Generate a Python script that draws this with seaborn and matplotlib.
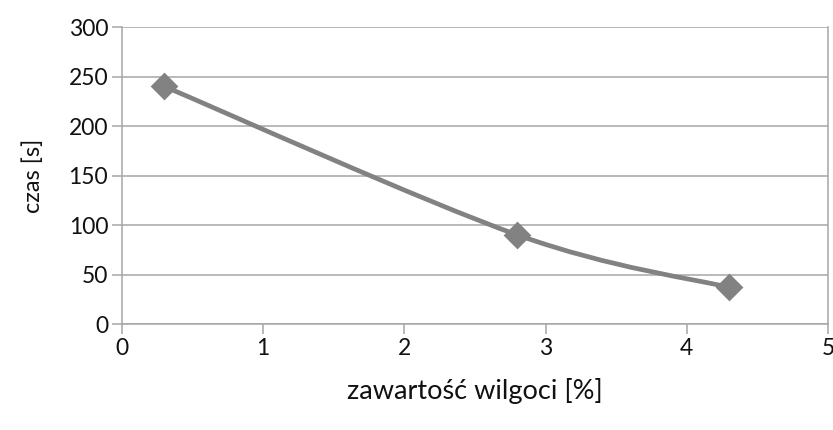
import matplotlib
matplotlib.use("Agg")
import matplotlib.pyplot as plt
from matplotlib.path import Path
from matplotlib.patches import PathPatch
import seaborn as sns
import pandas as pd

moisture = [0.3, 2.8, 4.3]
time_s = [240, 90, 37]
x_ticks = [0, 1, 2, 3, 4, 5]
y_ticks = [0, 50, 100, 150, 200, 250, 300]

df = pd.DataFrame({"moisture": moisture, "time": time_s})

sns.set_style("white")
plt.rcParams["font.family"] = ["Lato", "DejaVu Sans"]

fig = plt.figure(figsize=(8.33, 4.3), dpi=100)
ax = fig.add_axes([0.1465, 0.2465, 0.8475, 0.6905])

line_col = "#828282"
grid_col = "#a6a6a6"

# Excel-like smoothed line: cubic bezier segments built from the data points
pts = list(zip(moisture, time_s))
verts = [pts[0]]
codes = [Path.MOVETO]
for i in range(len(pts) - 1):
    p0 = pts[max(i - 1, 0)]
    p1 = pts[i]
    p2 = pts[i + 1]
    p3 = pts[min(i + 2, len(pts) - 1)]
    c1 = (p1[0] + (p2[0] - p0[0]) / 6, p1[1] + (p2[1] - p0[1]) / 6)
    c2 = (p2[0] - (p3[0] - p1[0]) / 6, p2[1] - (p3[1] - p1[1]) / 6)
    verts += [c1, c2, p2]
    codes += [Path.CURVE4] * 3
ax.add_patch(PathPatch(Path(verts, codes), facecolor="none", edgecolor=line_col,
                       lw=3.4, capstyle="round", joinstyle="round", zorder=3))

sns.scatterplot(data=df, x="moisture", y="time", marker="D", s=200, color=line_col,
                edgecolor=line_col, linewidth=0, ax=ax, zorder=4, legend=False)

ax.set_xlim(0, 5)
ax.set_ylim(0, 300)
ax.set_xticks(x_ticks)
ax.set_yticks(y_ticks)
ax.yaxis.grid(True, color=grid_col, lw=1.1)
ax.xaxis.grid(False)
ax.set_axisbelow(True)

for side in ["left", "bottom", "right"]:
    ax.spines[side].set_visible(True)
    ax.spines[side].set_color(grid_col)
    ax.spines[side].set_linewidth(1.1)
ax.spines["top"].set_visible(False)

ax.tick_params(axis="both", which="major", direction="out", length=7, width=1.1,
               color=grid_col, labelsize=16.5, labelcolor="#111111", pad=3,
               bottom=True, left=True)

ax.set_xlabel("zawartość wilgoci [%]", fontsize=19.5, color="#111111", labelpad=14)
ax.set_ylabel("czas [s]", fontsize=17, color="#111111", labelpad=18)

plt.savefig("out.png", dpi=100)
